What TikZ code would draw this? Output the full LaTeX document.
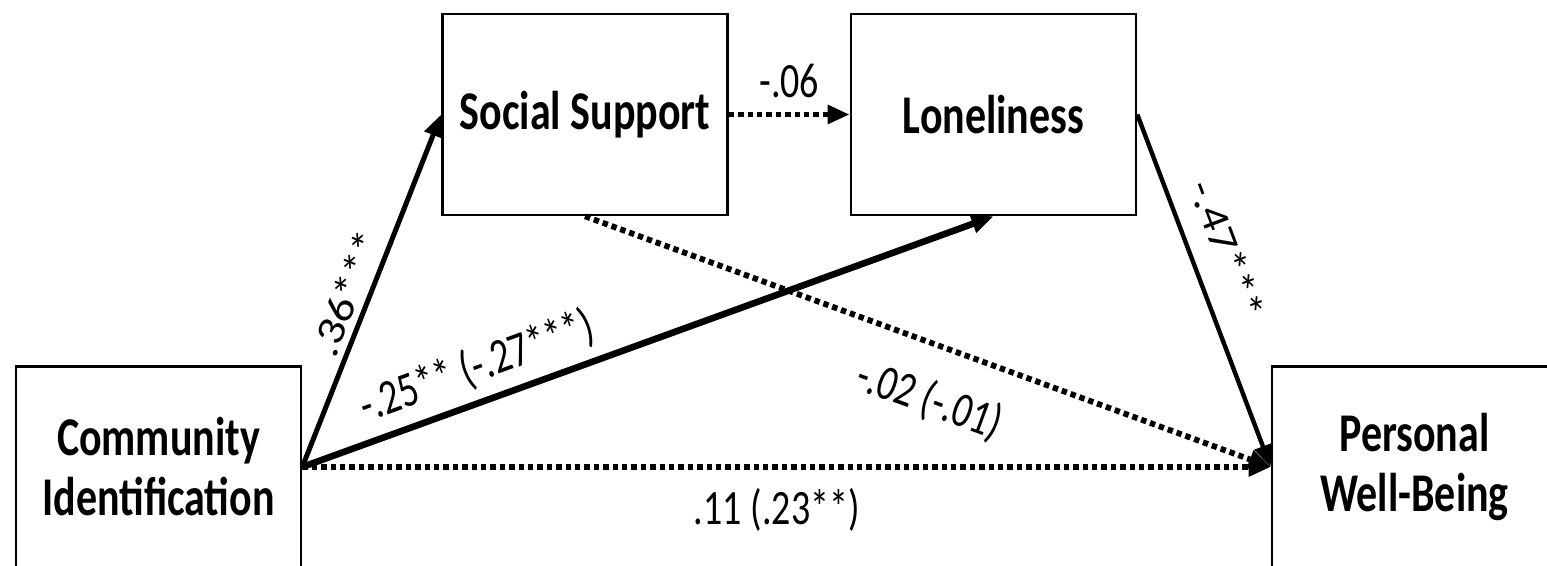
\documentclass[tikz,border=0pt]{standalone}
\usepackage{fontspec}
\usepackage{graphicx}
\setmainfont{Carlito}
\usetikzlibrary{arrows.meta}
\newcommand{\boxw}{142.5pt}
\newcommand{\boxh}{100.5pt}
\newcommand{\stretchv}[1]{\scalebox{1}[1.3]{#1}}
\newcommand{\stretchh}[1]{\scalebox{1.25}[1.05]{#1}}

\begin{document}
\begin{tikzpicture}[x=0.5pt, y=-0.5pt,
    var/.style={draw, rectangle, line width=1.3pt, minimum width=\boxw, minimum height=\boxh, inner sep=0pt, align=center, font=\fontsize{21}{30}\selectfont\bfseries},
    sig/.style={line width=2.5pt, -{Triangle[length=11pt,width=9pt]}},
    nonsig/.style={sig, line width=2.9pt, dash pattern=on 2.7pt off 2pt},
    coef/.style={font=\fontsize{19}{22}\selectfont, inner sep=1pt}]
    \useasboundingbox (0,0) rectangle (1547,566);

    % Variables
    \node[var] (ci) at (158.5,467) {\stretchv{Community}\\\stretchv{Identification}};
    \node[var] (ss) at (585,114.5) {\stretchv{Social Support}};
    \node[var] (lone) at (993.5,114.5) {\stretchv{Loneliness}};
    \node[var] (pwb) at (1414.5,467) {\stretchv{Personal}\\\stretchv{Well-Being}};

    % Paths
    \draw[sig] (ci.east) -- (ss.west) node[coef, pos=0.47, above=2pt, sloped] {\stretchh{.36***}};
    \draw[sig, line width=3.3pt] (ci.east) -- (lone.south) node[coef, pos=0.27, above=4pt, sloped] {\stretchv{-.25** (-.27***)}};
    \draw[nonsig] (ss.east) -- (lone.west) node[coef, midway, above=6pt] {\stretchv{-.06}};
    \draw[nonsig] (ss.south) -- (pwb.west) node[coef, pos=0.53, below=14pt, sloped] {\stretchv{-.02 (-.01)}};
    \draw[sig, line width=2.2pt] (lone.east) -- (pwb.west) node[coef, pos=0.42, above=9pt, sloped] {\stretchh{-.47***}};
    \draw[nonsig] (ci.east) -- (pwb.west) node[coef, pos=0.49, below=8pt] {\stretchv{.11 (.23**)}};

\end{tikzpicture}
\end{document}
